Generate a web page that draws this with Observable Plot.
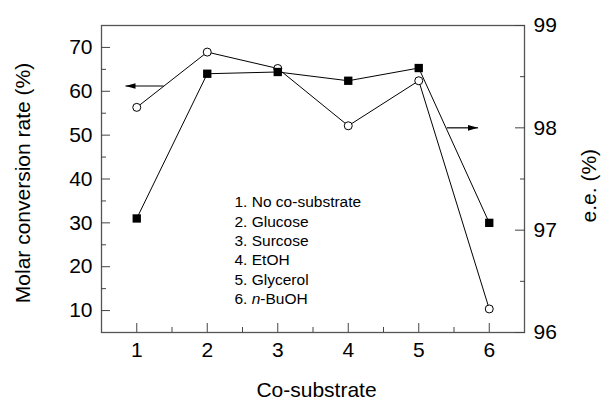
<!DOCTYPE html>
<html><head><meta charset="utf-8">
<script src="https://cdn.jsdelivr.net/npm/d3@7"></script>
<script src="https://cdn.jsdelivr.net/npm/@observablehq/plot@0.6"></script>
<style>body{margin:0;background:#fff}</style>
</head><body><div id="chart"></div>
<script>
const coSubstrate = [1, 2, 3, 4, 5, 6];
const conversion = [31.0, 64.0, 64.4, 62.4, 65.3, 30.0];
const eeValues = [98.20, 98.74, 98.58, 98.02, 98.46, 96.23];
const legendItems = ["1. No co-substrate", "2. Glucose", "3. Surcose", "4. EtOH", "5. Glycerol", "6. n-BuOH"];
const xTicks = [1, 2, 3, 4, 5, 6];
const xMinorTicks = [1.5, 2.5, 3.5, 4.5, 5.5];
const leftTicks = [10, 20, 30, 40, 50, 60, 70];
const leftMinorTicks = [15, 25, 35, 45, 55, 65];
const rightTicks = [96, 97, 98, 99];
const rightMinorTicks = [96.5, 97.5, 98.5];
const arrowConversion = [{x1: 1.38, x2: 0.84, y: 61.2}];
const arrowEE = [{x1: 5.40, x2: 5.84, y: 98.0}];

const leftDomain = [5, 75];
const rightDomain = [96, 99];
const eeToLeft = d3.scaleLinear().domain(rightDomain).range(leftDomain);

const rows = coSubstrate.map((c, i) => ({c, conv: conversion[i], ee: eeValues[i]}));

const headLeft = {draw(ctx) { ctx.moveTo(0, 0); ctx.lineTo(10, -2.8); ctx.lineTo(10, 2.8); ctx.closePath(); }};
const headRight = {draw(ctx) { ctx.moveTo(0, 0); ctx.lineTo(-10, -2.8); ctx.lineTo(-10, 2.8); ctx.closePath(); }};

const tickColor = "#444";
const fs = 21;

const chart = Plot.plot({
  width: 601,
  height: 401,
  marginLeft: 101,
  marginRight: 77,
  marginTop: 25,
  marginBottom: 69,
  style: {fontFamily: "'Liberation Sans', Arial, sans-serif", color: "black", background: "white"},
  x: {domain: [0.5, 6.5]},
  y: {domain: leftDomain},
  marks: [
    Plot.frame({stroke: "#555", strokeWidth: 1.3}),
    Plot.axisX(xTicks, {tickSize: -9, tickPadding: 19, fontSize: fs, stroke: tickColor, label: null}),
    Plot.axisX(xMinorTicks, {tickSize: -5, tickFormat: () => "", stroke: tickColor, label: null}),
    Plot.axisY(leftTicks, {tickSize: -9, tickPadding: 18, fontSize: fs, stroke: tickColor, label: null}),
    Plot.axisY(leftMinorTicks, {tickSize: -5, tickFormat: () => "", stroke: tickColor, label: null}),
    Plot.axisY(rightTicks.map(eeToLeft), {anchor: "right", tickSize: -10, tickPadding: 19, fontSize: fs, stroke: tickColor,
      tickFormat: d => d3.format("d")(Math.round(eeToLeft.invert(d))), label: null}),
    Plot.axisY(rightMinorTicks.map(eeToLeft), {anchor: "right", tickSize: -5, tickFormat: () => "", stroke: tickColor, label: null}),
    Plot.line(rows, {x: "c", y: "conv", stroke: "black", strokeWidth: 1}),
    Plot.line(rows, {x: "c", y: d => eeToLeft(d.ee), stroke: "black", strokeWidth: 1}),
    Plot.dot(rows, {x: "c", y: d => eeToLeft(d.ee), r: 4, fill: "white", stroke: "black", strokeWidth: 1}),
    Plot.dot(rows, {x: "c", y: "conv", symbol: "square", r: 4.7, fill: "black"}),
    Plot.link(arrowConversion, {x1: "x1", x2: "x2", y1: "y", y2: "y", stroke: "black", strokeWidth: 1.2}),
    Plot.dot(arrowConversion, {x: "x2", y: "y", symbol: headLeft, fill: "black"}),
    Plot.link(arrowEE, {x1: "x1", x2: "x2", y1: d => eeToLeft(d.y), y2: d => eeToLeft(d.y), stroke: "black", strokeWidth: 1.2}),
    Plot.dot(arrowEE, {x: "x2", y: d => eeToLeft(d.y), symbol: headRight, fill: "black"}),
    Plot.text([legendItems.join("\n")], {frameAnchor: "top-left", dx: 133, dy: 168, lineAnchor: "top", textAnchor: "start", lineHeight: 1.25, fontSize: 15.5}),
    Plot.text(["Co-substrate"], {frameAnchor: "bottom", dx: 3.5, dy: 64, lineAnchor: "bottom", textAnchor: "middle", fontSize: fs}),
    Plot.text(["Molar conversion rate (%)"], {frameAnchor: "left", dx: -71.5, dy: 4, rotate: -90, lineAnchor: "bottom", textAnchor: "middle", fontSize: fs}),
    Plot.text(["e.e. (%)"], {frameAnchor: "right", dx: 71, dy: 6.7, rotate: -90, lineAnchor: "bottom", textAnchor: "middle", fontSize: fs})
  ]
});

d3.select(chart).selectAll("tspan").filter(function() { return this.textContent === "6. n-BuOH"; }).each(function() {
  const t = d3.select(this);
  t.text("6. ");
  t.append("tspan").attr("font-style", "italic").text("n");
  t.append("tspan").text("-BuOH");
});

document.getElementById("chart").appendChild(chart);
</script>
</body></html>
